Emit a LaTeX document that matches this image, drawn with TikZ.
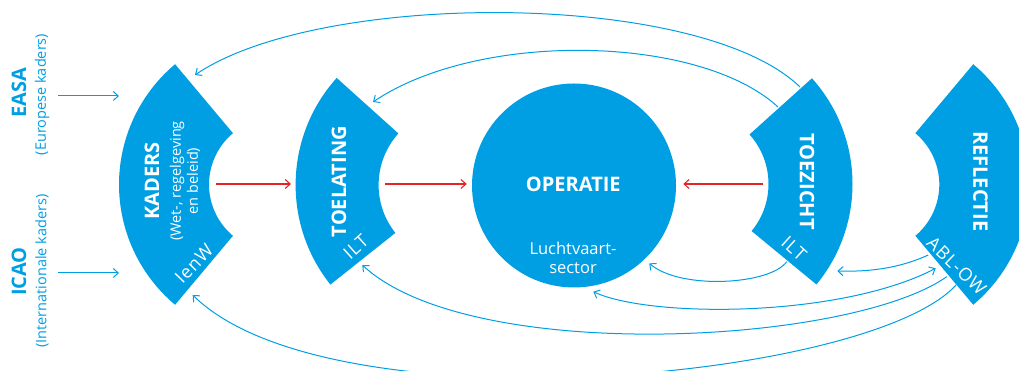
\documentclass[tikz,border=0pt]{standalone}
\usepackage{fontspec}
\setmainfont{Open Sans}
\usetikzlibrary{arrows.meta,calc}
\definecolor{rblue}{RGB}{0,159,227}
\definecolor{rred}{RGB}{229,37,33}
\begin{document}
\begin{tikzpicture}[x=1pt,y=1pt,
  sectorfill/.style={fill=rblue,draw=none},
  bluearr/.style={draw=rblue,line width=1pt,-{Straight Barb[length=5pt,width=9pt]}},
  bluebi/.style={draw=rblue,line width=1pt,{Straight Barb[length=5pt,width=9pt]}-{Straight Barb[length=5pt,width=9pt]}},
  redarr/.style={draw=rred,line width=1.1pt,-{Straight Barb[length=5pt,width=9pt]}},
  bigtxt/.style={text=white,inner sep=0pt,font=\bfseries\fontsize{20}{24}\selectfont},
  subtxt/.style={text=white,inner sep=0pt,font=\fontsize{18}{21}\selectfont\addfontfeatures{LetterSpace=6}},
  optxt/.style={text=white,inner sep=0pt,font=\fontsize{16.5}{19}\selectfont},
  smalltxt/.style={text=white,inner sep=0pt,align=center,font=\fontsize{14.5}{17}\selectfont},
  sidebig/.style={text=rblue,inner sep=0pt,font=\bfseries\fontsize{20}{24}\selectfont},
  sidesmall/.style={text=rblue,inner sep=0pt,font=\fontsize{14.5}{17}\selectfont}
]
\useasboundingbox (0,0) rectangle (1019,371);
\clip (0,0) rectangle (1019,371);

% centres
\coordinate (kc) at (276,186.5);
\coordinate (tc) at (455.6,186);
\coordinate (zc) at (694.5,187);
\coordinate (rc) at (872.3,186.5);

% connector end points
\coordinate (easaS) at (58,275);
\coordinate (easaE) at (119,275);
\coordinate (icaoS) at (58,98);
\coordinate (icaoE) at (119,98);
\coordinate (kadR) at (216,187);
\coordinate (toelL) at (291,187);
\coordinate (toelR) at (385,187);
\coordinate (opL) at (466.7,187);
\coordinate (tozL) at (763.3,187);
\coordinate (opR) at (683.3,187);
\coordinate (tozTopA) at (800,284);
\coordinate (kadTop) at (195,296);
\coordinate (tozTopB) at (778,264);
\coordinate (toelTop) at (373,269);
\coordinate (tozBot) at (786.7,109.3);
\coordinate (opBotR) at (649.3,107.7);
\coordinate (refA) at (928.3,116);
\coordinate (tozBotR) at (837.3,100);
\coordinate (opBot) at (593.3,79.3);
\coordinate (refB) at (935.7,102.7);
\coordinate (refC) at (946.7,94.3);
\coordinate (toelBot) at (362.3,106);
\coordinate (refD) at (956,86);
\coordinate (kadBot) at (192.7,76);

% blue curves
\draw[bluearr] (tozTopA) .. controls (700,381) and (320,381) .. (kadTop);
\draw[bluearr] (tozTopB) .. controls (700,336) and (480,341) .. (toelTop);
\draw[bluearr] (tozBot) .. controls (770,86) and (680,81) .. (opBotR);
\draw[bluearr] (refA) .. controls (900,103) and (870,99) .. (tozBotR);
\draw[bluebi] (opBot) .. controls (650,53) and (840,53) .. (refB);
\draw[bluearr] (refC) .. controls (850,26) and (470,6) .. (toelBot);
\draw[bluearr] (refD) .. controls (870,-9) and (330,-59) .. (kadBot);

% straight blue arrows
\draw[bluearr] (easaS) -- (easaE);
\draw[bluearr] (icaoS) -- (icaoE);

% sectors
\fill[sectorfill] ($(kc)+(130:157)$) arc[start angle=130,end angle=230,radius=157]
  -- ($(kc)+(230:67)$) arc[start angle=230,end angle=130,radius=67] -- cycle;
\fill[sectorfill] ($(tc)+(138:160)$) arc[start angle=138,end angle=218.5,radius=160]
  -- ($(tc)+(218.5:77)$) arc[start angle=218.5,end angle=138,radius=77] -- cycle;
\fill[sectorfill] ($(zc)+(42:158)$) arc[start angle=42,end angle=-39.5,radius=158]
  -- ($(zc)+(-39.5:74)$) arc[start angle=-39.5,end angle=42,radius=74] -- cycle;
\fill[sectorfill] ($(rc)+(50:157)$) arc[start angle=50,end angle=-50,radius=157]
  -- ($(rc)+(-50:67)$) arc[start angle=-50,end angle=50,radius=67] -- cycle;
\node[circle,fill=rblue,minimum size=204pt,inner sep=0pt] (op) at (574,185.5) {};

% red arrows
\draw[redarr] (kadR) -- (toelL);
\draw[redarr] (toelR) -- (opL);
\draw[redarr] (tozL) -- (opR);

% texts
\node[bigtxt,rotate=90] (kadT) at (152,190) {KADERS};
\node[smalltxt,rotate=90] (kadS) at (185,190) {(Wet-, regelgeving\\en beleid)};
\node[subtxt,rotate=46] (kadI) at (194,107) {IenW};
\node[bigtxt,rotate=90] (toelT) at (339,189.3) {TOELATING};
\node[subtxt,rotate=42] (toelI) at (355.7,124.3) {ILT};
\node[bigtxt] (opT) at (573.3,186.7) {OPERATIE};
\node[optxt,anchor=base] (opS1) at (573,116.7) {Luchtvaart-};
\node[optxt,anchor=base] (opS2) at (573,97.7) {sector};
\node[bigtxt,rotate=-90] (tozT) at (807,189.3) {TOEZICHT};
\node[subtxt,rotate=-42] (tozI) at (794,122.7) {ILT};
\node[bigtxt,rotate=-90] (refT) at (980.5,189.7) {REFLECTIE};
\node[subtxt,rotate=-44] (refI) at (956.7,105.3) {ABL-OW};
\node[sidebig,rotate=90] (easaT) at (19,278) {EASA};
\node[sidesmall,rotate=90] (easaS2) at (42,276.5) {(Europese kaders)};
\node[sidebig,rotate=90] (icaoT) at (19,99.5) {ICAO};
\node[sidesmall,rotate=90] (icaoS2) at (42,100) {(Internationale kaders)};
\end{tikzpicture}
\end{document}
